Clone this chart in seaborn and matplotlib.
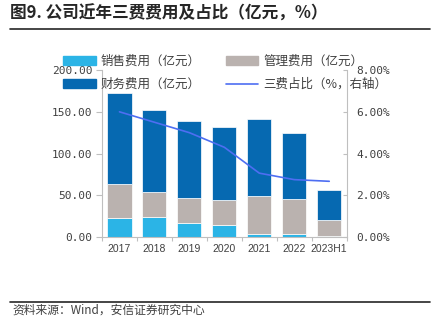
import matplotlib
matplotlib.use("Agg")
import matplotlib.pyplot as plt
import matplotlib.ticker as mticker
from matplotlib.lines import Line2D
from matplotlib.patches import Patch
import seaborn as sns
import pandas as pd
import numpy as np

sns.set_theme(style="white")
plt.rcParams['font.family'] = ['Noto Sans CJK SC', 'DejaVu Sans']
plt.rcParams['axes.unicode_minus'] = False

# ---- data ----
years = ["2017", "2018", "2019", "2020", "2021", "2022", "2023H1"]
sales = [23.2, 24.4, 16.4, 14.4, 3.6, 3.6, 1.7]        # 销售费用（亿元）
admin = [40.3, 29.6, 30.0, 30.4, 45.2, 41.6, 19.2]     # 管理费用（亿元）
finance = [109.2, 98.7, 93.1, 87.5, 92.0, 79.5, 35.5]  # 财务费用（亿元）
ratio = [6.00, 5.50, 5.00, 4.30, 3.06, 2.75, 2.67]     # 三费占比（%，右轴）

labels = ["销售费用（亿元）", "管理费用（亿元）", "财务费用（亿元）", "三费占比（%，右轴）"]
left_ticks = [0, 50, 100, 150, 200]
right_ticks = [0, 2, 4, 6, 8]

c_sales = "#2BB4E6"
c_admin = "#BAB2AF"
c_fin = "#0669B1"
c_line = "#4E6EF2"

df = pd.DataFrame({"year": years, "sales": sales, "admin": admin,
                   "finance": finance, "ratio": ratio})
df["b2"] = df["sales"]
df["b3"] = df["sales"] + df["admin"]

fig = plt.figure(figsize=(4.37, 3.26), dpi=100)
ax = fig.add_axes([0.2334, 0.273, 0.56, 0.512])

bw = 0.69
kw = dict(width=bw, edgecolor="white", linewidth=0.5, ax=ax, order=years)
sns.barplot(data=df, x="year", y="sales", color=c_sales, saturation=1, **kw)
sns.barplot(data=df, x="year", y="admin", bottom=df["b2"], color=c_admin, saturation=1, **kw)
sns.barplot(data=df, x="year", y="finance", bottom=df["b3"], color=c_fin, saturation=1, **kw)

ax.set_xlim(-0.5, len(years) - 0.5)
ax.set_ylim(0, 200)
ax.set_yticks(left_ticks)
ax.yaxis.set_major_formatter(mticker.FormatStrFormatter("%.2f"))
ax.set_xlabel("")
ax.set_ylabel("")

ax2 = ax.twinx()
sns.lineplot(x=np.arange(len(years)), y=df["ratio"], ax=ax2, color=c_line, linewidth=1.2)
ax2.set_ylim(0, 8)
ax2.set_yticks(right_ticks)
ax2.yaxis.set_major_formatter(mticker.FuncFormatter(lambda v, p: f"{v:.2f}%"))
ax2.set_ylabel("")
ax2.set_xlim(-0.5, len(years) - 0.5)

spine_c = "#BFBFBF"
for a in (ax, ax2):
    a.spines["top"].set_visible(False)
    for s in ("left", "right", "bottom"):
        a.spines[s].set_color(spine_c)
        a.spines[s].set_linewidth(0.8)
ax.spines["right"].set_visible(False)
ax2.spines["left"].set_visible(False)
ax2.spines["bottom"].set_visible(False)

ax.tick_params(axis="y", direction="out", length=4, width=0.8, color=spine_c,
               labelcolor="#404040", pad=3, left=True)
for t in ax.get_yticklabels():
    t.set_fontfamily("DejaVu Sans Mono"); t.set_fontsize(8)
ax2.tick_params(axis="y", direction="in", length=3, width=0.8, color=spine_c,
                labelcolor="#404040", pad=7, right=True)
for t in ax2.get_yticklabels():
    t.set_fontfamily("DejaVu Sans Mono"); t.set_fontsize(8)

ax.set_xticks(np.arange(len(years)))
ax.set_xticklabels(years)
ax.set_xticks(np.arange(len(years) + 1) - 0.5, minor=True)
ax.tick_params(axis="x", which="major", length=0, pad=5, labelcolor="#404040")
ax.tick_params(axis="x", which="minor", direction="out", length=3, width=0.8,
               color=spine_c, bottom=True)
for t in ax.get_xticklabels():
    t.set_fontfamily("Liberation Sans"); t.set_fontsize(7.5)

handles = [Patch(color=c_sales), Patch(color=c_admin), Patch(color=c_fin),
           Line2D([], [], color=c_line, linewidth=1.2)]
order = [0, 2, 1, 3]
fig.legend([handles[i] for i in order], [labels[i] for i in order], ncol=2,
           loc="upper left", bbox_to_anchor=(63 / 437, 1 - 55 / 326),
           frameon=False, fontsize=9, handlelength=2.6, handleheight=0.7,
           handletextpad=0.4, columnspacing=2.0, labelspacing=0.8,
           borderpad=0, borderaxespad=0, labelcolor="#404040")

fig.text(10 / 437, 1 - 14 / 326, "图9. 公司近年三费费用及占比（亿元，%）",
         fontsize=12, fontweight="bold", color="#262626", va="center", ha="left")
fig.add_artist(Line2D([10 / 437, 430 / 437], [1 - 29 / 326, 1 - 29 / 326],
                      color="#262626", linewidth=1.2))
fig.add_artist(Line2D([10 / 437, 430 / 437], [1 - 301.7 / 326, 1 - 301.7 / 326],
                      color="#262626", linewidth=1.2))
fig.text(12 / 437, 1 - 310 / 326, "资料来源：Wind，安信证券研究中心",
         fontsize=8.5, color="#404040", va="center", ha="left", style="italic")

fig.savefig("out.png", dpi=100)
